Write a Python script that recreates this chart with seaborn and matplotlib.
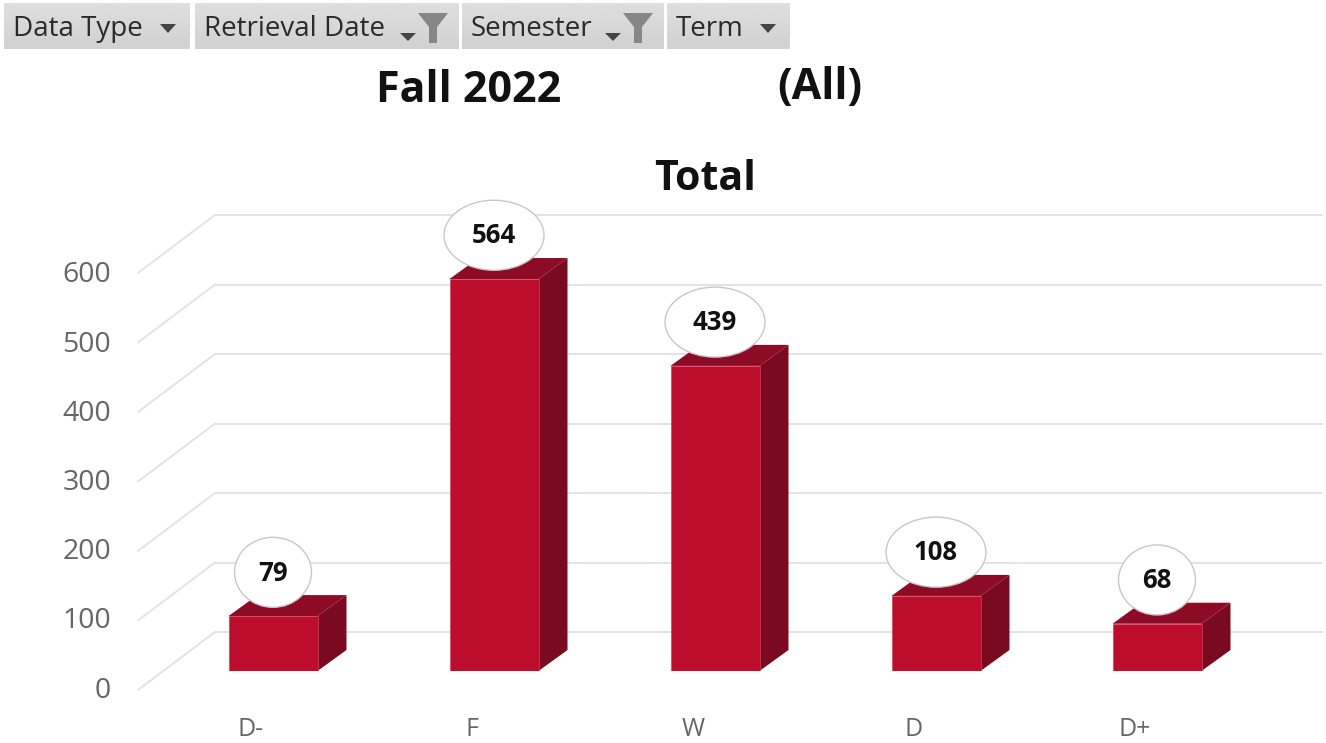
import matplotlib
matplotlib.use("Agg")
import matplotlib.pyplot as plt
import matplotlib.transforms as mtrans
from matplotlib.patches import Ellipse
import numpy as np
import pandas as pd
import seaborn as sns

# ---------- data ----------
grades = ["D-", "F", "W", "D", "D+"]
totals = [79, 564, 439, 108, 68]
y_ticks = [0, 100, 200, 300, 400, 500, 600]
filter_labels = ["Data Type", "Retrieval Date", "Semester", "Term"]
filter_active = [False, True, True, False]
page_left = "Fall 2022"
page_right = "(All)"
chart_title = "Total"

# ---------- layout (pixels) ----------
W, H = 1326, 743
PX_PER_UNIT = 0.695
BAR_STEP = 221.0
FIRST_BAR = 273.0
BASE_Y = 671.0
DEPTH_X = 29.0 / BAR_STEP
DEPTH_Y = 21.0 / PX_PER_UNIT
WALL_Y = 39.0 / PX_PER_UNIT
WALL_X = (215 - FIRST_BAR) / BAR_STEP
FLOOR_X = (138 - FIRST_BAR) / BAR_STEP
FLOOR_Y = -19.0 / PX_PER_UNIT
RIGHT_X = (1322 - FIRST_BAR) / BAR_STEP

FONT = "Open Sans"
TICK = "#666666"
FRONT, SIDE, TOP = "#bd0d2c", "#7a0a20", "#8e0b25"

sns.set_theme(style="white")
plt.rcParams["font.family"] = [FONT, "DejaVu Sans"]

fig = plt.figure(figsize=(W / 100, H / 100), dpi=100, facecolor="white")
ax = fig.add_axes([0, 1 - BASE_Y / H, 1, BASE_Y / H])
ax.patch.set_alpha(0)

df = pd.DataFrame({"grade": grades, "total": totals})
sns.barplot(data=df, x="grade", y="total", order=grades, color=FRONT, saturation=1,
            width=89 / BAR_STEP, ax=ax, zorder=4, edgecolor="#d8405f", linewidth=0.5)
ax.set_xlim(-FIRST_BAR / BAR_STEP, (W - FIRST_BAR) / BAR_STEP)
ax.set_ylim(0, BASE_Y / PX_PER_UNIT)
ax.set_xlabel("")
ax.set_ylabel("")
ax.set_yticks([])
for s in ax.spines.values():
    s.set_visible(False)

# wall and floor lines
for v in y_ticks:
    ax.plot([WALL_X, RIGHT_X], [v + WALL_Y] * 2, color="#e3e3e3", lw=1.4, zorder=1, clip_on=False)
    ax.plot([FLOOR_X, WALL_X], [v + FLOOR_Y, v + WALL_Y], color="#e3e3e3", lw=1.4, zorder=1, clip_on=False)

# 3D faces of the bars, and callouts
for bar, val in zip(ax.patches, totals):
    x0, x1 = bar.get_x(), bar.get_x() + bar.get_width()
    ax.fill([x1, x1 + DEPTH_X, x1 + DEPTH_X, x1], [0, DEPTH_Y, val + DEPTH_Y, val],
            color=SIDE, lw=0, zorder=3)
    ax.fill([x0, x0 + DEPTH_X, x1 + DEPTH_X, x1], [val, val + DEPTH_Y, val + DEPTH_Y, val],
            color=TOP, lw=0, zorder=5)
    cx = (x0 + x1) / 2
    cy = val + 63
    wide = len(str(val)) > 2
    ax.add_patch(Ellipse((cx, cy), (100 if wide else 77) / BAR_STEP, 70 / PX_PER_UNIT,
                         fc="white", ec="#c8c8c8", lw=1.0, zorder=6))
    ax.text(cx, cy - 1, str(val), ha="center", va="center", fontsize=18.5,
            fontweight="bold", color="#111111", zorder=7)

# x tick labels sit left of the bars
ax.tick_params(axis="x", length=0, pad=33, labelsize=18, labelcolor=TICK)
shift = mtrans.ScaledTranslation(-22 / 100, 0, fig.dpi_scale_trans)
for lab in ax.get_xticklabels():
    lab.set_transform(lab.get_transform() + shift)

# value axis on the front edge
ax_y = fig.add_axes([118 / W, 1 - 687 / H, 20 / W, 415 / H])
ax_y.patch.set_alpha(0)
ax_y.set_ylim(y_ticks[0], y_ticks[-1])
ax_y.set_yticks(y_ticks)
ax_y.set_yticklabels([str(v) for v in y_ticks])
ax_y.set_xticks([])
ax_y.tick_params(axis="y", length=0, pad=5, labelsize=20.5, labelcolor=TICK)
for s in ax_y.spines.values():
    s.set_visible(False)

# overlay in pixel coordinates: header buttons and titles
ov = fig.add_axes([0, 0, 1, 1], zorder=10)
ov.axis("off")
ov.patch.set_alpha(0)

spans = [(4, 190), (195, 459), (462, 664), (667, 790)]
grad = np.linspace(0.87, 0.82, 32).reshape(-1, 1)
for (a, b), name, active in zip(spans, filter_labels, filter_active):
    ov.imshow(grad, extent=(a, b, 49, 3), cmap="gray", vmin=0, vmax=1, aspect="auto", zorder=1)
    ov.text(a + 9, 29, name, ha="left", va="center", fontsize=20, color="#2a2a2a", zorder=3)
    if active:
        ar = b - 59
        ov.fill([ar, ar + 16, ar + 8], [33, 33, 41], color="#444444", lw=0, zorder=3)
        fx = b - 26
        ov.fill([fx - 15, fx + 15, fx + 4, fx + 4, fx - 4, fx - 4],
                [13, 13, 27, 43, 43, 27], color="#868686", lw=0, zorder=3)
    else:
        ar = b - 30
        ov.fill([ar, ar + 16, ar + 8], [24, 24, 33], color="#444444", lw=0, zorder=3)
ov.set_xlim(0, W)
ov.set_ylim(H, 0)

ov.text(469, 91, page_left, ha="center", va="center", fontsize=31, fontweight="bold", color="#111111")
ov.text(820, 88, page_right, ha="center", va="center", fontsize=31, fontweight="bold", color="#111111")
ov.text(705, 180, chart_title, ha="center", va="center", fontsize=29.5, fontweight="bold", color="#111111")

fig.savefig("out.png", dpi=100)
